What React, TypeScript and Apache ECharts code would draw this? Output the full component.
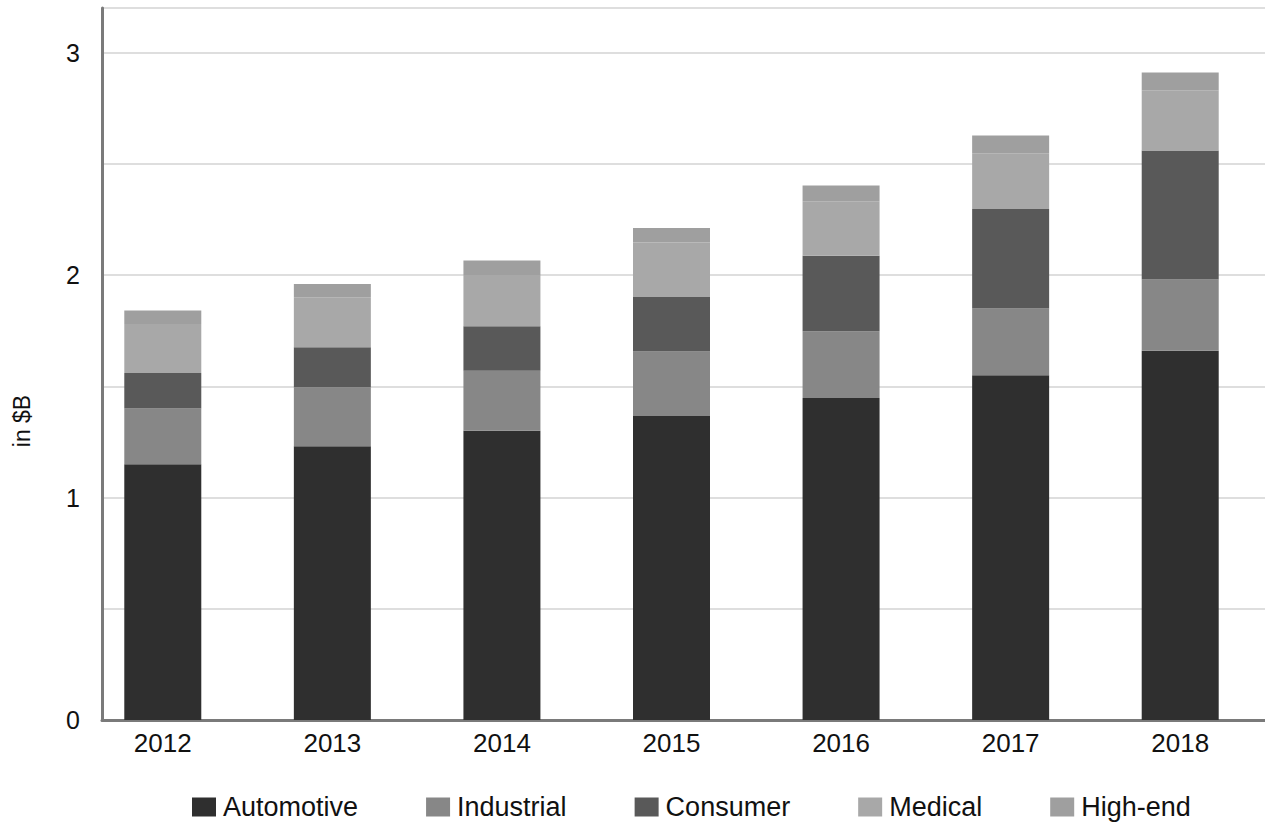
import React, { useEffect, useRef } from "react";
import * as echarts from "echarts";

const years = ["2012", "2013", "2014", "2015", "2016", "2017", "2018"];
const automotive = [1.15, 1.23, 1.3, 1.366, 1.447, 1.55, 1.66];
const industrial = [0.25, 0.265, 0.27, 0.29, 0.3, 0.3, 0.32];
const consumer = [0.16, 0.18, 0.2, 0.245, 0.34, 0.447, 0.58];
const medical = [0.22, 0.225, 0.23, 0.245, 0.245, 0.25, 0.27];
const highEnd = [0.06, 0.06, 0.065, 0.065, 0.07, 0.08, 0.08];

const seriesNames = ["Automotive", "Industrial", "Consumer", "Medical", "High-end"];
const seriesData = [automotive, industrial, consumer, medical, highEnd];
const seriesColors = ["#2f2f2f", "#878787", "#595959", "#a8a8a8", "#9f9f9f"];
const yAxisTitle = "in $B";

const FONT = "'Liberation Sans', Arial, sans-serif";

export default function App() {
  const ref = useRef<HTMLDivElement>(null);
  useEffect(() => {
    if (!ref.current) return;
    const chart = echarts.init(ref.current, undefined, { renderer: "svg" });
    chart.setOption({
      animation: false,
      backgroundColor: "#ffffff",
      grid: [
        { left: 102, top: 8, width: 1163, height: 712 },
        { left: 78, top: 8, width: 1216, height: 712 },
      ],
      graphic: [
        {
          type: "text",
          x: 22,
          y: 421,
          rotation: Math.PI / 2,
          style: {
            text: yAxisTitle,
            fontSize: 23,
            fill: "#111",
            fontFamily: FONT,
            align: "center",
            verticalAlign: "middle",
          },
        },
      ],
      legend: {
        data: seriesNames,
        left: 187,
        top: 788,
        itemWidth: 24,
        itemHeight: 19,
        itemGap: 68,
        icon: "rect",
        textStyle: { fontSize: 27, color: "#111", fontFamily: FONT, padding: [0, 0, 0, 2], lineHeight: 28 },
      },
      xAxis: [
        {
          type: "category",
          gridIndex: 0,
          data: years,
          axisLine: { show: true, lineStyle: { color: "#7a7a7a", width: 3 } },
          axisTick: { show: false },
          axisLabel: { show: false },
          splitLine: { show: false },
        },
        {
          type: "category",
          gridIndex: 1,
          data: years,
          axisLine: { show: false },
          axisTick: { show: false },
          axisLabel: { fontSize: 26, color: "#111", fontFamily: FONT, margin: 10 },
          splitLine: { show: false },
        },
      ],
      yAxis: [
        {
          type: "value",
          gridIndex: 0,
          min: 0,
          max: 3.2,
          interval: 0.5,
          axisLine: { show: true, lineStyle: { color: "#7a7a7a", width: 3 } },
          axisTick: { show: false },
          axisLabel: {
            fontSize: 25,
            color: "#111",
            fontFamily: FONT,
            margin: 22,
            formatter: (v: number) => (Number.isInteger(v) ? String(v) : ""),
          },
          splitLine: { show: true, lineStyle: { color: "#d3d3d3", width: 1.5 } },
        },
        {
          type: "value",
          gridIndex: 1,
          min: 0,
          max: 3.2,
          show: false,
          splitLine: { show: false },
        },
      ],
      series: seriesNames.map((name, i) => ({
        name,
        type: "bar",
        stack: "total",
        xAxisIndex: 1,
        yAxisIndex: 1,
        barWidth: 77,
        data: seriesData[i],
        itemStyle: { color: seriesColors[i] },
      })),
    });
    return () => chart.dispose();
  }, []);
  return (
    <div
      ref={ref}
      style={{ position: "absolute", left: 0, top: 0, width: 1265, height: 823 }}
    />
  );
}
